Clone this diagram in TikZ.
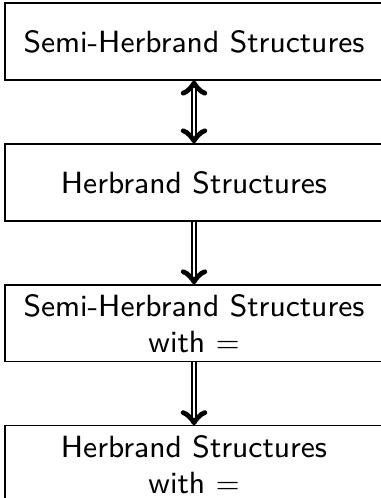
\documentclass[tikz,border=0pt]{standalone}
\usetikzlibrary{positioning}
\renewcommand{\familydefault}{\sfdefault}

\begin{document}
\begin{tikzpicture}[x=0.303pt, y=-0.303pt,
		box/.style={draw, minimum width=114.5pt, minimum height=23.3pt, align=center, inner sep=0pt,
			font=\fontsize{9.3pt}{10.9pt}\selectfont},
		imp/.style={double, double distance=0.8pt, line width=0.5pt}]
		\clip ( 0, 0 ) rectangle ( 381, 498 );

		% структуры
		\node [box] (semi) at ( 194, 41.5 ) {Semi-Herbrand Structures};
		\node [box, below=19pt of semi] (herb) {Herbrand Structures};
		\node [box, below=19pt of herb] (semieq) {Semi-Herbrand Structures\\with $=$};
		\node [box, below=19pt of semieq] (herbeq) {Herbrand Structures\\with $=$};

		% связи
		\draw [imp, <->] (semi) -- (herb);
		\draw [imp, ->] (herb) -- (semieq);
		\draw [imp, ->] (semieq) -- (herbeq);
	\end{tikzpicture}
\end{document}
